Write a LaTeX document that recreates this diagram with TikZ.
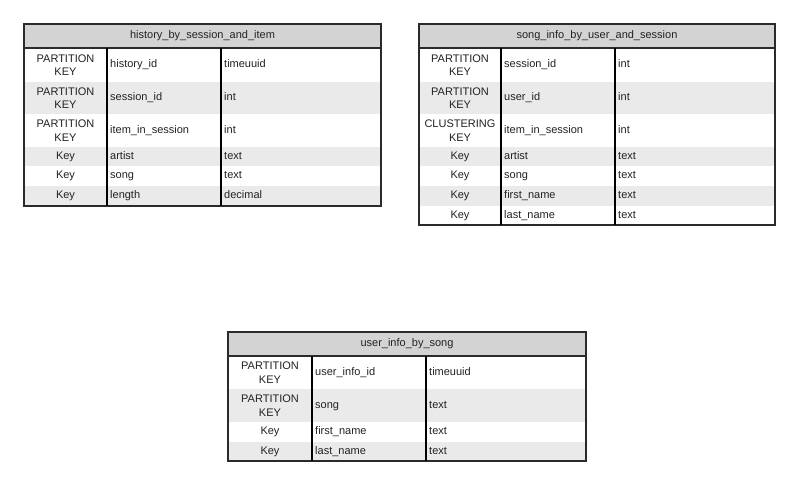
\documentclass[tikz,border=0pt]{standalone}
\usepackage{fontspec}
\setmainfont{Liberation Sans}
\definecolor{headfill}{HTML}{D3D3D3}
\definecolor{stripe}{HTML}{EAEAEA}
\definecolor{ink}{HTML}{222222}
\definecolor{rule}{HTML}{2A2A2A}
\tikzset{
  txt/.style={inner sep=0pt, text=ink, font=\fontsize{11}{13.5}\selectfont},
  keycell/.style={txt, align=center},
  fieldcell/.style={txt, anchor=west, text height=8pt, text depth=2.5pt},
  headcell/.style={txt, text height=8pt, text depth=2.5pt},
  frame/.style={draw=rule, line width=1.1pt},
  colsep/.style={draw=black, line width=1.3pt},
}
\begin{document}
\begin{tikzpicture}[x=1pt, y=-1pt]
\useasboundingbox (0,0) rectangle (800,486);
\fill[white] (0,0) rectangle (800,486);

% ---- history_by_session_and_item ----
\fill[headfill] (24,24) rectangle (381,48);
\node[headcell] (h-title) at (202.5,36) {history\_by\_session\_and\_item};
\foreach \t/\b/\f/\k/\n/\y [count=\i] in {
  48/82/white/{PARTITION\\KEY}/history\_id/timeuuid,
  82/114/stripe/{PARTITION\\KEY}/session\_id/int,
  114/147/white/{PARTITION\\KEY}/item\_in\_session/int,
  147/166/stripe/Key/artist/text,
  166/186/white/Key/song/text,
  186/206/stripe/Key/length/decimal}{
  \fill[\f] (24,\t) rectangle (381,\b);
  \node[keycell] (h-k\i) at (65.5,{(\t+\b)/2}) {\k};
  \node[fieldcell] (h-n\i) at (110,{(\t+\b)/2}) {\n};
  \node[fieldcell] (h-y\i) at (224,{(\t+\b)/2}) {\y};
}
\draw[frame] (24,24) rectangle (381,206);
\draw[frame] (24,48) -- (381,48);
\draw[colsep] (107,48) -- (107,206) (221,48) -- (221,206);

% ---- song_info_by_user_and_session ----
\fill[headfill] (419,24) rectangle (775,48);
\node[headcell] (s-title) at (597,36) {song\_info\_by\_user\_and\_session};
\foreach \t/\b/\f/\k/\n/\y [count=\i] in {
  48/82/white/{PARTITION\\KEY}/session\_id/int,
  82/114/stripe/{PARTITION\\KEY}/user\_id/int,
  114/147/white/{CLUSTERING\\KEY}/item\_in\_session/int,
  147/166/stripe/Key/artist/text,
  166/186/white/Key/song/text,
  186/206/stripe/Key/first\_name/text,
  206/225/white/Key/last\_name/text}{
  \fill[\f] (419,\t) rectangle (775,\b);
  \node[keycell] (s-k\i) at (460,{(\t+\b)/2}) {\k};
  \node[fieldcell] (s-n\i) at (504,{(\t+\b)/2}) {\n};
  \node[fieldcell] (s-y\i) at (618,{(\t+\b)/2}) {\y};
}
\draw[frame] (419,24) rectangle (775,225);
\draw[frame] (419,48) -- (775,48);
\draw[colsep] (501,48) -- (501,225) (615,48) -- (615,225);

% ---- user_info_by_song ----
\fill[headfill] (228,332) rectangle (586,356);
\node[headcell] (u-title) at (407,344) {user\_info\_by\_song};
\foreach \t/\b/\f/\k/\n/\y [count=\i] in {
  356/389/white/{PARTITION\\KEY}/user\_info\_id/timeuuid,
  389/422/stripe/{PARTITION\\KEY}/song/text,
  422/442/white/Key/first\_name/text,
  442/461/stripe/Key/last\_name/text}{
  \fill[\f] (228,\t) rectangle (586,\b);
  \node[keycell] (u-k\i) at (270,{(\t+\b)/2}) {\k};
  \node[fieldcell] (u-n\i) at (315,{(\t+\b)/2}) {\n};
  \node[fieldcell] (u-y\i) at (429,{(\t+\b)/2}) {\y};
}
\draw[frame] (228,332) rectangle (586,461);
\draw[frame] (228,356) -- (586,356);
\draw[colsep] (312,356) -- (312,461) (426,356) -- (426,461);
\end{tikzpicture}
\end{document}
